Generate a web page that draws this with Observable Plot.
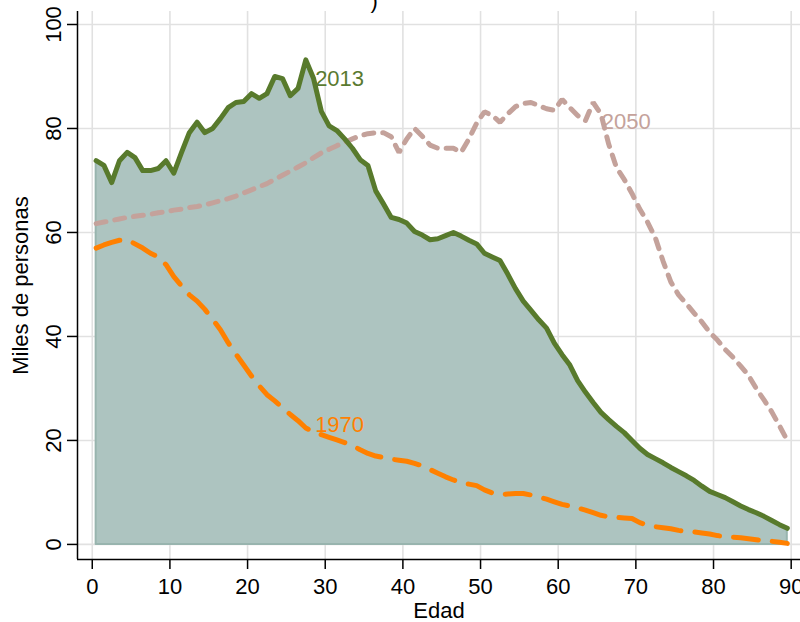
<!DOCTYPE html>
<html>
<head>
<meta charset="utf-8">
<script src="https://cdn.jsdelivr.net/npm/d3@7"></script>
<script src="https://cdn.jsdelivr.net/npm/@observablehq/plot@0.6"></script>
<style>
  html, body { margin: 0; padding: 0; background: #fff; }
  svg { display: block; }
</style>
</head>
<body>
<div id="chart"></div>
<script>
const edades = [0.5,1.5,2.5,3.5,4.5,5.5,6.5,7.5,8.5,9.5,10.5,11.5,12.5,13.5,14.5,15.5,16.5,17.5,18.5,19.5,
  20.5,21.5,22.5,23.5,24.5,25.5,26.5,27.5,28.5,29.5,30.5,31.5,32.5,33.5,34.5,35.5,36.5,37.5,38.5,39.5,
  40.5,41.5,42.5,43.5,44.5,45.5,46.5,47.5,48.5,49.5,50.5,51.5,52.5,53.5,54.5,55.5,56.5,57.5,58.5,59.5,
  60.5,61.5,62.5,63.5,64.5,65.5,66.5,67.5,68.5,69.5,70.5,71.5,72.5,73.5,74.5,75.5,76.5,77.5,78.5,79.5,
  80.5,81.5,82.5,83.5,84.5,85.5,86.5,87.5,88.5,89.5];

const p2013 = [73.8,72.9,69.6,73.8,75.4,74.4,71.9,71.9,72.3,73.8,
  71.4,75.4,79.2,81.2,79.2,80.0,81.9,84.0,85.0,85.2,
  86.7,85.8,86.7,90.0,89.6,86.3,87.7,93.2,89.6,83.3,
  80.5,79.6,78.0,76.2,74.0,72.9,68.0,65.5,62.9,62.5,
  61.8,60.2,59.5,58.6,58.8,59.4,60.0,59.3,58.5,57.8,
  56.0,55.3,54.6,52.0,49.2,46.8,45.0,43.2,41.6,38.7,
  36.5,34.5,31.5,29.3,27.3,25.4,24.0,22.7,21.5,20.0,
  18.5,17.3,16.5,15.7,14.8,14.0,13.2,12.3,11.2,10.2,
  9.6,9.0,8.2,7.4,6.7,6.1,5.4,4.6,3.8,3.1];

const p1970 = [57.0,57.6,58.1,58.5,58.6,57.8,57.0,56.0,55.3,53.8,
  51.5,49.7,48.0,46.8,45.2,43.3,41.3,38.8,36.6,34.5,
  32.4,30.5,28.8,27.6,26.3,25.0,23.8,22.4,21.6,21.1,
  20.6,20.1,19.6,19.0,18.2,17.5,17.0,16.7,16.4,16.2,
  16.0,15.6,15.1,14.4,13.7,13.0,12.4,11.9,11.6,11.3,
  10.5,9.9,9.6,9.7,9.8,9.8,9.5,9.1,8.7,8.2,
  7.7,7.4,7.0,6.6,6.1,5.6,5.3,5.2,5.1,5.0,
  4.2,3.7,3.4,3.2,3.0,2.7,2.5,2.4,2.2,2.0,
  1.7,1.5,1.4,1.3,1.1,0.9,0.7,0.6,0.4,0.2];

const p2050 = [61.7,62.0,62.3,62.6,62.9,63.1,63.3,63.5,63.8,64.0,
  64.3,64.5,64.8,65.0,65.3,65.7,66.1,66.5,67.0,67.6,
  68.2,68.8,69.4,70.2,71.0,71.8,72.6,73.4,74.4,75.3,
  76.0,76.7,77.3,78.0,78.6,79.0,79.2,79.2,78.4,75.4,
  78.0,80.0,78.5,76.8,76.2,76.2,76.2,75.4,78.0,81.0,
  83.2,82.5,81.2,82.8,84.2,84.8,85.0,84.4,83.8,83.5,
  85.6,84.0,82.5,81.5,85.0,82.8,77.0,72.5,70.2,67.5,
  64.5,62.0,59.0,54.5,50.5,48.0,46.3,44.5,42.8,40.8,
  39.3,37.5,36.0,34.3,32.5,30.0,27.8,25.5,22.8,20.0];

const xTicks = [0,10,20,30,40,50,60,70,80,90];
const yTicks = [0,20,40,60,80,100];

const etiquetas = [
  {x: 28.7, y: 89.6, text: "2013", color: "#5a7a30"},
  {x: 28.7, y: 22.9, text: "1970", color: "#ff8000"},
  {x: 65.6, y: 81.3, text: "2050", color: "#c4a29b"}
];

const tituloFin = [")"];

const xDom = [-1.9, 91.2];
const yDom = [-2.9, 102.5];

const rows = edades.map((e, i) => ({edad: e, v2013: p2013[i], v1970: p1970[i], v2050: p2050[i]}));

const font = "'Liberation Sans', Arial, Helvetica, sans-serif";

const chart = Plot.plot({
  width: 800,
  height: 622,
  marginTop: 11,
  marginBottom: 63,
  marginLeft: 77,
  marginRight: 0,
  style: {fontFamily: font, fontSize: "22px", background: "#fff", overflow: "hidden"},
  x: {domain: xDom},
  y: {domain: yDom},
  marks: [
    Plot.gridX(xTicks, {stroke: "#e1e1e1", strokeOpacity: 1, strokeWidth: 1.6}),
    Plot.gridY(yTicks, {stroke: "#e1e1e1", strokeOpacity: 1, strokeWidth: 1.6}),
    Plot.areaY(rows, {x: "edad", y: "v2013", fill: "#adc4c0", stroke: "#98b4ae", strokeWidth: 2}),
    Plot.line(rows, {x: "edad", y: "v2050", stroke: "#c4a29b", strokeWidth: 5, strokeDasharray: "10,9", strokeLinejoin: "miter"}),
    Plot.line(rows, {x: "edad", y: "v1970", stroke: "#ff8000", strokeWidth: 5, strokeDasharray: "25,14", strokeLinejoin: "miter"}),
    Plot.line(rows, {x: "edad", y: "v2013", stroke: "#587a2c", strokeWidth: 5, strokeLinejoin: "round"}),
    Plot.text(etiquetas, {x: "x", y: "y", text: "text", fill: "color", textAnchor: "start", fontSize: 22}),
    Plot.text(tituloFin, {frameAnchor: "top-left", dx: 293, dy: -4, text: d => d, fill: "#000", fontSize: 22, lineAnchor: "bottom"}),
    Plot.ruleX([xDom[0]], {stroke: "#000", strokeWidth: 1.5}),
    Plot.ruleY([yDom[0]], {stroke: "#000", strokeWidth: 1.5}),
    Plot.axisX(xTicks, {tickSize: 10, tickPadding: 9, stroke: "#000", strokeWidth: 1.5, fontSize: 22,
      label: "Edad", labelAnchor: "center", labelOffset: 58, labelArrow: "none"}),
    Plot.axisY(yTicks, {tickSize: 10, tickPadding: 7, tickRotate: -90, stroke: "#000", strokeWidth: 1.5, fontSize: 22,
      label: "Miles de personas", labelAnchor: "center", labelOffset: 65, labelArrow: "none"})
  ]
});
document.getElementById("chart").appendChild(chart);
</script>
</body>
</html>
